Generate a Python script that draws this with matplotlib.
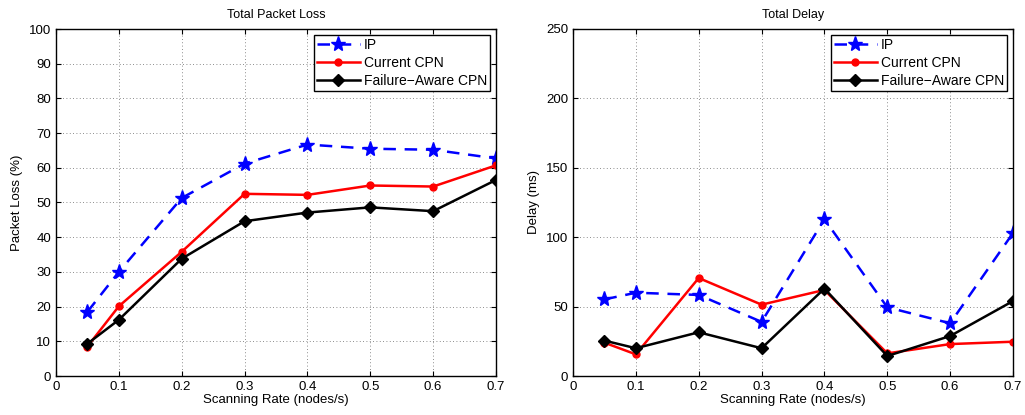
import matplotlib
matplotlib.use('Agg')
import matplotlib.pyplot as plt

plt.rcParams['font.family'] = ['Liberation Sans', 'DejaVu Sans']

rate = [0.05, 0.1, 0.2, 0.3, 0.4, 0.5, 0.6, 0.7]
series_names = ['IP', 'Current CPN', 'Failure\u2212Aware CPN']

# packet loss (%)
loss_ip = [18.5, 30.0, 51.3, 61.2, 66.7, 65.5, 65.2, 62.7]
loss_cur = [8.5, 20.1, 35.8, 52.5, 52.2, 54.9, 54.6, 60.7]
loss_fa = [9.3, 16.2, 33.8, 44.6, 47.1, 48.6, 47.5, 56.5]

# delay (ms)
delay_ip = [55.2, 60.0, 58.4, 39.0, 112.9, 49.5, 38.0, 103.0]
delay_cur = [24.0, 15.6, 70.6, 51.4, 62.0, 16.3, 23.0, 24.7]
delay_fa = [25.5, 20.0, 31.5, 20.0, 63.0, 14.4, 28.8, 54.0]

fig = plt.figure(figsize=(10.25, 4.15), dpi=100)
ax1 = fig.add_axes([56 / 1025, 1 - 376 / 415, 440 / 1025, 347 / 415])
ax2 = fig.add_axes([573 / 1025, 1 - 376 / 415, 440 / 1025, 347 / 415])


def draw(ax, ip, cur, fa, ymax, ystep, title, ylabel):
    ax.plot(rate, ip, '--', color='blue', lw=1.8, marker='*', ms=11, dashes=(5, 3.5),
            label=series_names[0])
    ax.plot(rate, cur, '-', color='red', lw=1.8, marker='o', ms=5, label=series_names[1])
    ax.plot(rate, fa, '-', color='black', lw=1.8, marker='D', ms=6, label=series_names[2])
    ax.set_xlim(0, 0.7)
    ax.set_ylim(0, ymax)
    ax.set_xticks([0, 0.1, 0.2, 0.3, 0.4, 0.5, 0.6, 0.7])
    ax.set_xticklabels(['0', '0.1', '0.2', '0.3', '0.4', '0.5', '0.6', '0.7'])
    ax.set_yticks(range(0, ymax + 1, ystep))
    ax.grid(True, linestyle=(0, (1, 3)), color='black', lw=0.6, alpha=0.6)
    ax.tick_params(direction='in', labelsize=9.5, top=True, right=True)
    ax.set_title(title, fontsize=9, pad=8)
    ax.set_xlabel('Scanning Rate (nodes/s)', fontsize=9.5, labelpad=1)
    ax.set_ylabel(ylabel, fontsize=9.5)
    for s in ax.spines.values():
        s.set_linewidth(1.0)
    leg = ax.legend(loc='upper right', fontsize=10, fancybox=False, framealpha=1,
                    edgecolor='black', borderpad=0.2, labelspacing=0.3,
                    handlelength=3.1, handletextpad=0.3, borderaxespad=0.45)
    leg.get_frame().set_linewidth(1.0)


draw(ax1, loss_ip, loss_cur, loss_fa, 100, 10, 'Total Packet Loss', 'Packet Loss (%)')
draw(ax2, delay_ip, delay_cur, delay_fa, 250, 50, 'Total Delay', 'Delay (ms)')

fig.savefig('out.png', dpi=100)
